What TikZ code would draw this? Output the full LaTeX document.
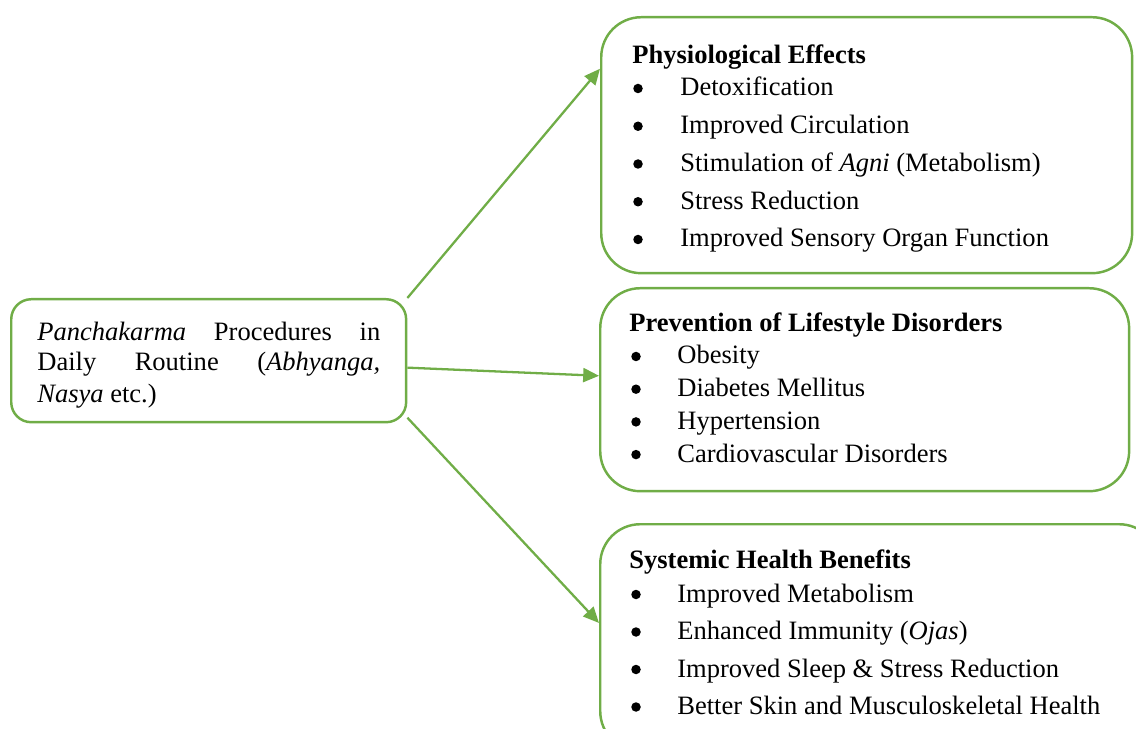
\documentclass[tikz,border=0pt]{standalone}
\usepackage{fontspec}
\setmainfont{Liberation Serif}
\usetikzlibrary{arrows.meta}
\definecolor{leafgreen}{RGB}{112,173,71}
\newcommand{\txtsize}{\fontsize{15.1}{18}\selectfont}
\tikzset{
  box/.style={draw=leafgreen, line width=1.4pt, rounded corners=0.8cm, anchor=north west, inner sep=0pt},
  arr/.style={draw=leafgreen, line width=1.3pt, -{Triangle[length=9pt,width=8pt]}},
  txt/.style={anchor=base west, inner sep=0pt, font=\txtsize},
  head/.style={txt, font=\txtsize\bfseries},
  dot/.style={circle, fill=black, inner sep=0pt, minimum size=0.19cm},
}

\begin{document}
\begin{tikzpicture}[x=0.02cm, y=-0.02cm]
    \clip (0,0) rectangle (1136,729);

    % the four boxes
    \node[box, rounded corners=0.4cm, minimum width=7.9cm, minimum height=2.46cm] (proc) at (10,298) {};
    \node[box, minimum width=10.62cm, minimum height=5.12cm] (phys) at (600,16) {};
    \node[box, minimum width=10.58cm, minimum height=4.06cm] (prev) at (599,287) {};
    \node[box, minimum width=11.18cm, minimum height=4.54cm] (syst) at (599,523) {};

    % procedures
    \node[txt] (l1) at (37,341) {\makebox[6.86cm][s]{\textit{Panchakarma} Procedures in}};
    \node[txt] (l2) at (37,371) {\makebox[6.86cm][s]{Daily Routine (\textit{Abhyanga,}}};
    \node[txt] (l3) at (37,402) {\textit{Nasya} etc.)};

    % physiological effects
    \node[head] (h1) at (632,64) {Physiological Effects};
    \foreach \t [count=\i] in {Detoxification, Improved Circulation,
        {Stimulation of \textit{Agni} (Metabolism)}, Stress Reduction,
        Improved Sensory Organ Function} {
        \node[dot] (b1\i) at (638,{88.5+37.75*(\i-1)}) {};
        \node[txt] (e1\i) at (680,{96+37.75*(\i-1)}) {\t};
    }

    % lifestyle disorders
    \node[head] (h2) at (629,332) {Prevention of Lifestyle Disorders};
    \foreach \t [count=\i] in {Obesity, Diabetes Mellitus, Hypertension,
        Cardiovascular Disorders} {
        \node[dot] (b2\i) at (636,{356.5+32.7*(\i-1)}) {};
        \node[txt] (e2\i) at (677,{364+32.7*(\i-1)}) {\t};
    }

    % systemic benefits
    \node[head] (h3) at (629,568) {Systemic Health Benefits};
    \foreach \t [count=\i] in {Improved Metabolism, {Enhanced Immunity (\textit{Ojas})},
        Improved Sleep \& Stress Reduction, Better Skin and Musculoskeletal Health} {
        \node[dot] (b3\i) at (636,{594.5+37.5*(\i-1)}) {};
        \node[txt] (e3\i) at (677,{602+37.5*(\i-1)}) {\t};
    }

    \draw[arr] (proc.north east) -- (phys.164.8);
    \draw[arr] (proc.-2.5) -- (prev.177.7);
    \draw[arr] (proc.-16) -- (syst.177);
\end{tikzpicture}
\end{document}
